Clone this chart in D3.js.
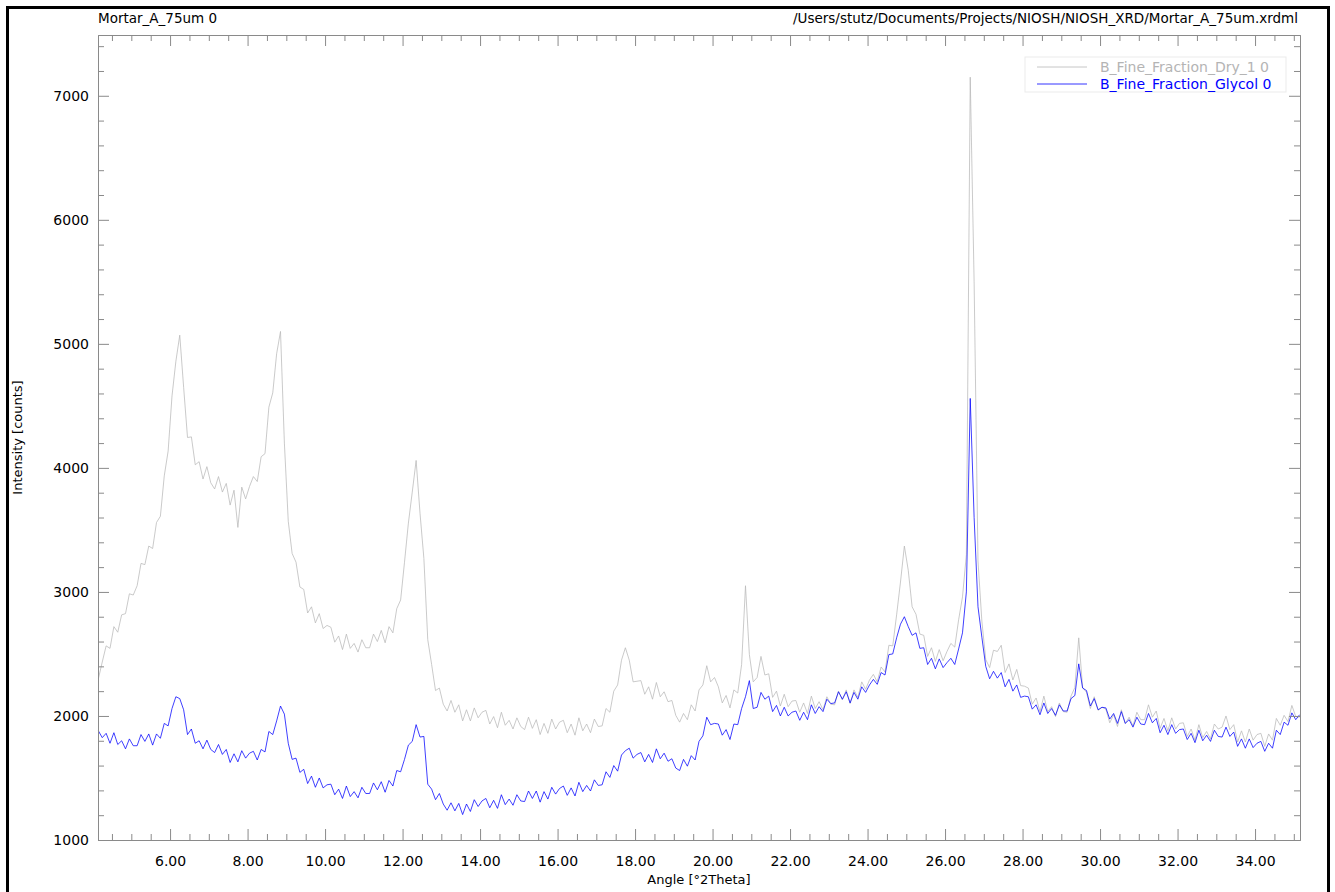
<!DOCTYPE html>
<html>
<head>
<meta charset="utf-8">
<script src="https://cdn.jsdelivr.net/npm/d3@7"></script>
<style>
  body { margin: 0; background: #fff; }
  text { font-family: "DejaVu Sans", sans-serif; }
</style>
</head>
<body>
<div id="chart"></div>
<script>
// scan grid, 4.15 .. 35.15 deg 2Theta, 0.1 step
const angles = d3.range(311).map(i => +(4.15 + i * 0.1).toFixed(2));

// counts, one row per degree
const dryCounts = [
  2300, 2435, 2565, 2545, 2720, 2675, 2815, 2825, 2985, 2975,
  3050, 3230, 3220, 3370, 3350, 3560, 3610, 3935, 4135, 4580,
  4860, 5070, 4650, 4245, 4250, 4025, 4050, 3910, 4010, 3880,
  3830, 3930, 3805, 3875, 3700, 3820, 3520, 3845, 3750, 3850,
  3930, 3890, 4090, 4115, 4490, 4605, 4920, 5100, 4200, 3570,
  3310, 3240, 3040, 3020, 2830, 2880, 2750, 2825, 2705, 2730,
  2715, 2595, 2645, 2535, 2660, 2545, 2585, 2515, 2615, 2550,
  2550, 2660, 2600, 2690, 2590, 2720, 2670, 2865, 2935, 3240,
  3555, 3805, 4060, 3635, 3270, 2615, 2415, 2205, 2225, 2095,
  2040, 2125, 2030, 2090, 1960, 2050, 1960, 2065, 1985, 2030,
  2045, 1935, 1995, 1905, 2030, 1925, 1965, 1895, 1985, 1915,
  1890, 1990, 1900, 1970, 1850, 1940, 1860, 1975, 1895, 1950,
  1965, 1865, 1935, 1845, 1985, 1880, 1935, 1865, 1975, 1915,
  1920, 2060, 2030, 2200, 2250, 2450, 2550, 2450, 2275, 2280,
  2285, 2175, 2235, 2135, 2270, 2155, 2195, 2115, 2125, 2005,
  1950, 2020, 1970, 2090, 2040, 2210, 2250, 2405, 2275, 2310,
  2235, 2105, 2165, 2065, 2210, 2185, 2415, 3050, 2495, 2275,
  2310, 2480, 2330, 2340, 2150, 2200, 2080, 2175, 2075, 2120,
  2125, 2030, 2105, 2020, 2160, 2060, 2115, 2050, 2155, 2095,
  2090, 2200, 2130, 2210, 2100, 2210, 2150, 2275, 2215, 2290,
  2335, 2275, 2395, 2355, 2570, 2565, 2815, 3080, 3370, 3175,
  2880, 2820, 2660, 2650, 2480, 2550, 2440, 2535, 2445, 2520,
  2585, 2555, 2775, 2960, 3300, 7150, 5500, 3250, 2765, 2455,
  2390, 2530, 2520, 2570, 2350, 2420, 2290, 2375, 2245, 2240,
  2225, 2095, 2145, 2035, 2160, 2035, 2075, 1995, 2105, 2035,
  2030, 2160, 2230, 2630, 2230, 2190, 2060, 2155, 2045, 2070,
  2055, 1945, 2010, 1915, 2050, 1940, 1990, 1920, 2030, 1970,
  1970, 2090, 1990, 2040, 1900, 1980, 1880, 1985, 1895, 1940,
  1945, 1835, 1895, 1805, 1930, 1825, 1875, 1815, 1935, 1895,
  1910, 2000, 1890, 1930, 1790, 1880, 1790, 1895, 1805, 1850,
  1860, 1755, 1855, 1805, 1980, 1925, 2005, 1955, 2085, 1995, 1990
];

const glycolCounts = [
  1880, 1825, 1860, 1780, 1865, 1770, 1800, 1735, 1815, 1760,
  1760, 1850, 1795, 1855, 1765, 1855, 1820, 1940, 1920, 2060,
  2155, 2140, 2050, 1850, 1895, 1780, 1800, 1735, 1805, 1730,
  1705, 1770, 1690, 1730, 1625, 1695, 1630, 1720, 1660, 1700,
  1715, 1645, 1730, 1710, 1875, 1850, 1960, 2080, 2015, 1780,
  1650, 1660, 1545, 1570, 1455, 1515, 1425, 1500, 1420, 1445,
  1450, 1365, 1410, 1335, 1435, 1350, 1390, 1340, 1425, 1375,
  1375, 1460, 1405, 1470, 1385, 1480, 1435, 1560, 1550, 1650,
  1765, 1795, 1930, 1830, 1835, 1450, 1410, 1325, 1375, 1290,
  1240, 1300, 1235, 1295, 1205, 1290, 1230, 1325, 1270, 1315,
  1335, 1260, 1320, 1255, 1365, 1285, 1330, 1280, 1365, 1315,
  1310, 1395, 1335, 1395, 1305, 1390, 1330, 1425, 1370, 1415,
  1435, 1360, 1420, 1355, 1465, 1390, 1440, 1395, 1485, 1440,
  1445, 1550, 1505, 1600, 1555, 1685, 1720, 1740, 1660, 1690,
  1705, 1630, 1690, 1625, 1735, 1655, 1700, 1635, 1655, 1580,
  1560, 1650, 1595, 1680, 1645, 1795, 1840, 1990, 1930, 1940,
  1935, 1845, 1890, 1810, 1935, 1930, 2060, 2155, 2285, 2060,
  2070, 2190, 2135, 2160, 2035, 2085, 2000, 2070, 2000, 2030,
  2040, 1965, 2030, 1970, 2090, 2020, 2075, 2035, 2135, 2100,
  2105, 2195, 2135, 2195, 2105, 2190, 2135, 2235, 2190, 2250,
  2295, 2255, 2350, 2330, 2495, 2500, 2630, 2740, 2800, 2720,
  2650, 2670, 2545, 2550, 2415, 2465, 2380, 2460, 2390, 2430,
  2465, 2415, 2540, 2670, 3000, 4560, 3600, 2880, 2635, 2400,
  2300, 2360, 2305, 2350, 2235, 2295, 2200, 2250, 2150, 2160,
  2155, 2055, 2090, 2010, 2105, 2020, 2060, 2005, 2090, 2040,
  2040, 2140, 2165, 2420, 2225, 2205, 2080, 2140, 2050, 2070,
  2065, 1975, 2020, 1940, 2035, 1940, 1970, 1910, 1990, 1935,
  1930, 2020, 1945, 1980, 1865, 1925, 1850, 1930, 1860, 1890,
  1895, 1810, 1860, 1785, 1885, 1800, 1845, 1795, 1885, 1835,
  1830, 1910, 1835, 1870, 1755, 1815, 1740, 1815, 1745, 1780,
  1795, 1715, 1780, 1740, 1885, 1850, 1950, 1925, 2025, 1970, 2010
];

const seriesNames = ["B_Fine_Fraction_Dry_1 0", "B_Fine_Fraction_Glycol 0"];
const seriesColors = ["#b8b8b8", "#0000ff"];

const xMajorTicks = [6, 8, 10, 12, 14, 16, 18, 20, 22, 24, 26, 28, 30, 32, 34];
const yMajorTicks = [1000, 2000, 3000, 4000, 5000, 6000, 7000];

const titleLeft = "Mortar_A_75um 0";
const titleRight = "/Users/stutz/Documents/Projects/NIOSH/NIOSH_XRD/Mortar_A_75um.xrdml";

const W = 1335, H = 892;
const plot = { left: 98, right: 1300, top: 35, bottom: 840 };

var x = d3.scaleLinear().domain([4.14, 35.16]).range([plot.left, plot.right]);
var y = d3.scaleLinear().domain([1000, 7490]).range([plot.bottom, plot.top]);

var xMinor = d3.range(9, 71).map(d => d / 2).filter(d => xMajorTicks.indexOf(d) < 0);
var yMinor = d3.range(1000, 7500, 200).filter(d => yMajorTicks.indexOf(d) < 0);

const svg = d3.select("#chart")
  .append("svg")
  .attr("width", W)
  .attr("height", H);

// outer window frame
svg.append("rect")
  .attr("x", 7.5).attr("y", 7.5)
  .attr("width", 1321).attr("height", 900)
  .attr("fill", "none")
  .attr("stroke", "#000")
  .attr("stroke-width", 3);

svg.append("text")
  .attr("x", plot.left).attr("y", 23)
  .style("font-size", "13.5px")
  .text(titleLeft);

svg.append("text")
  .attr("x", plot.right - 2).attr("y", 23)
  .attr("text-anchor", "end")
  .style("font-size", "13.5px")
  .text(titleRight);

// data lines, dry first so glycol sits on top
const line = d3.line()
  .x((d, i) => x(angles[i]))
  .y(d => y(d));

[dryCounts, glycolCounts].forEach((vals, k) => {
  svg.append("path")
    .datum(vals)
    .attr("fill", "none")
    .attr("stroke", seriesColors[k])
    .attr("stroke-width", 0.75)
    .attr("d", line);
});

// axes, ticks pointing inward
const axisColor = "#8a8a8a";
function styleAxis(g) {
  g.selectAll("path, line").attr("stroke", axisColor);
  g.selectAll("text").attr("fill", "#000").style("font-size", "14px")
    .style("font-family", "DejaVu Sans, sans-serif");
}

function addAxis(axisFn, scale, translate, ticks, size, fmt, pad) {
  const a = axisFn(scale).tickValues(ticks).tickSize(size).tickSizeOuter(0)
    .tickFormat(fmt || "");
  if (pad) a.tickPadding(pad);
  svg.append("g")
    .attr("transform", translate)
    .call(a)
    .call(styleAxis);
}

addAxis(d3.axisBottom, x, `translate(0,${plot.bottom})`, xMajorTicks, -11, d3.format(".2f"), 16);
addAxis(d3.axisBottom, x, `translate(0,${plot.bottom})`, xMinor, -6);
addAxis(d3.axisTop, x, `translate(0,${plot.top})`, xMajorTicks, -11);
addAxis(d3.axisTop, x, `translate(0,${plot.top})`, xMinor, -6);
addAxis(d3.axisLeft, y, `translate(${plot.left},0)`, yMajorTicks, -11, d3.format("d"), 9);
addAxis(d3.axisLeft, y, `translate(${plot.left},0)`, yMinor, -6);
addAxis(d3.axisRight, y, `translate(${plot.right},0)`, yMajorTicks, -11);
addAxis(d3.axisRight, y, `translate(${plot.right},0)`, yMinor, -6);

// axis titles
svg.append("text")
  .attr("x", (plot.left + plot.right) / 2).attr("y", 884)
  .attr("text-anchor", "middle")
  .style("font-size", "13px")
  .text("Angle [°2Theta]");

svg.append("text")
  .attr("transform", `translate(22,${(plot.top + plot.bottom) / 2}) rotate(-90)`)
  .attr("text-anchor", "middle")
  .style("font-size", "13px")
  .text("Intensity [counts]");

// legend
const legend = svg.append("g").attr("transform", "translate(1025,57)");
legend.append("rect")
  .attr("width", 261).attr("height", 35)
  .attr("fill", "#fff")
  .attr("stroke", "#ebebeb");
seriesNames.forEach((name, k) => {
  const ly = 10 + k * 17;
  legend.append("line")
    .attr("x1", 12).attr("x2", 62)
    .attr("y1", ly).attr("y2", ly)
    .attr("stroke", seriesColors[k])
    .attr("stroke-width", 0.8);
  legend.append("text")
    .attr("x", 75).attr("y", ly + 5)
    .attr("fill", k === 0 ? "#b4b4b4" : "#0000ff")
    .style("font-size", "14px")
    .text(name);
});
</script>
</body>
</html>
